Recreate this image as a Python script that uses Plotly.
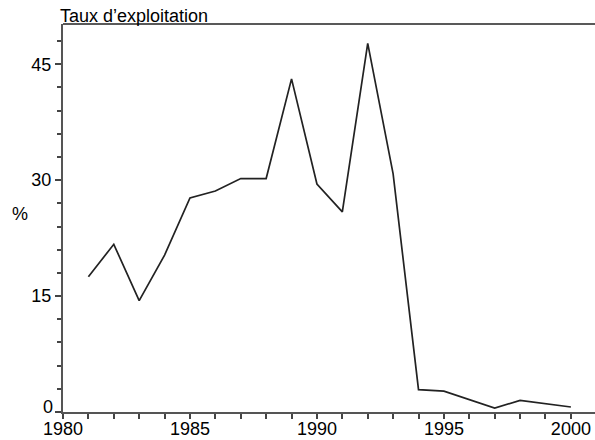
import plotly.graph_objects as go

years = list(range(1981, 2001))
taux = [17.5, 21.7, 14.4, 20.3, 27.7, 28.6, 30.2, 30.2, 43.1, 29.5,
        25.9, 47.7, 30.8, 2.9, 2.7, 1.6, 0.5, 1.5, 1.1, 0.65]
x_ticks = [1980, 1985, 1990, 1995, 2000]
y_ticks = [0, 15, 30, 45]
title_text = "Taux d\u2019exploitation"
y_label = "%"

FONT = "Liberation Sans, Arial, Helvetica, sans-serif"

fig = go.Figure()
fig.add_trace(go.Scatter(x=years, y=taux, mode="lines",
                         line=dict(color="#222222", width=1.7),
                         showlegend=False, hoverinfo="x+y"))

# the "0" label sits slightly raised in the reference; draw it as an annotation
y_ticktext = ["" if v == 0 else str(v) for v in y_ticks]

fig.update_layout(
    width=595, height=440,
    margin=dict(l=63, r=0, t=24, b=28, autoexpand=False),
    paper_bgcolor="white", plot_bgcolor="white",
    font=dict(family=FONT, size=18, color="black"),
    xaxis=dict(range=[1980, 2000.95], tickvals=x_ticks, ticktext=[str(v) for v in x_ticks],
               automargin=False, ticklabelstandoff=-6,
               showgrid=False, zeroline=False, showline=True, linecolor="#555555", linewidth=2,
               ticks="outside", ticklen=5, tickwidth=1.5, tickcolor="#444444",
               minor=dict(dtick=1, tick0=1980, ticks="outside", ticklen=5, tickwidth=1.5, tickcolor="#444444"),
               tickfont=dict(size=18, family=FONT)),
    yaxis=dict(range=[0, 50.2], tickvals=y_ticks, ticktext=y_ticktext,
               automargin=False,
               showgrid=False, zeroline=False, showline=True, linecolor="#555555", linewidth=2,
               ticks="outside", ticklen=6, tickwidth=1.5, tickcolor="#444444",
               minor=dict(dtick=3, tick0=0, ticks="outside", ticklen=4, tickwidth=1.5, tickcolor="#444444"),
               tickfont=dict(size=18, family=FONT)),
    shapes=[dict(type="line", xref="paper", yref="paper", x0=0, x1=1, y0=1, y1=1,
                 line=dict(color="#222222", width=1.3))],
    annotations=[
        dict(text=title_text, xref="paper", yref="paper", x=-0.0094, y=1, xanchor="left",
             yanchor="bottom", showarrow=False, yshift=-4, font=dict(size=18, family=FONT)),
        dict(text=y_label, xref="paper", yref="y", x=-0.081, y=25.6, xanchor="center",
             yanchor="middle", showarrow=False, font=dict(size=18, family=FONT)),
        dict(text=str(y_ticks[0]), xref="paper", yref="y", x=0, y=y_ticks[0], xanchor="right",
             yanchor="middle", xshift=-8, yshift=5, showarrow=False,
             font=dict(size=18, family=FONT)),
    ],
)

fig.write_html("out.html", config={"displayModeBar": False},
               post_script="document.body.style.margin='0';document.body.style.padding='0';")
